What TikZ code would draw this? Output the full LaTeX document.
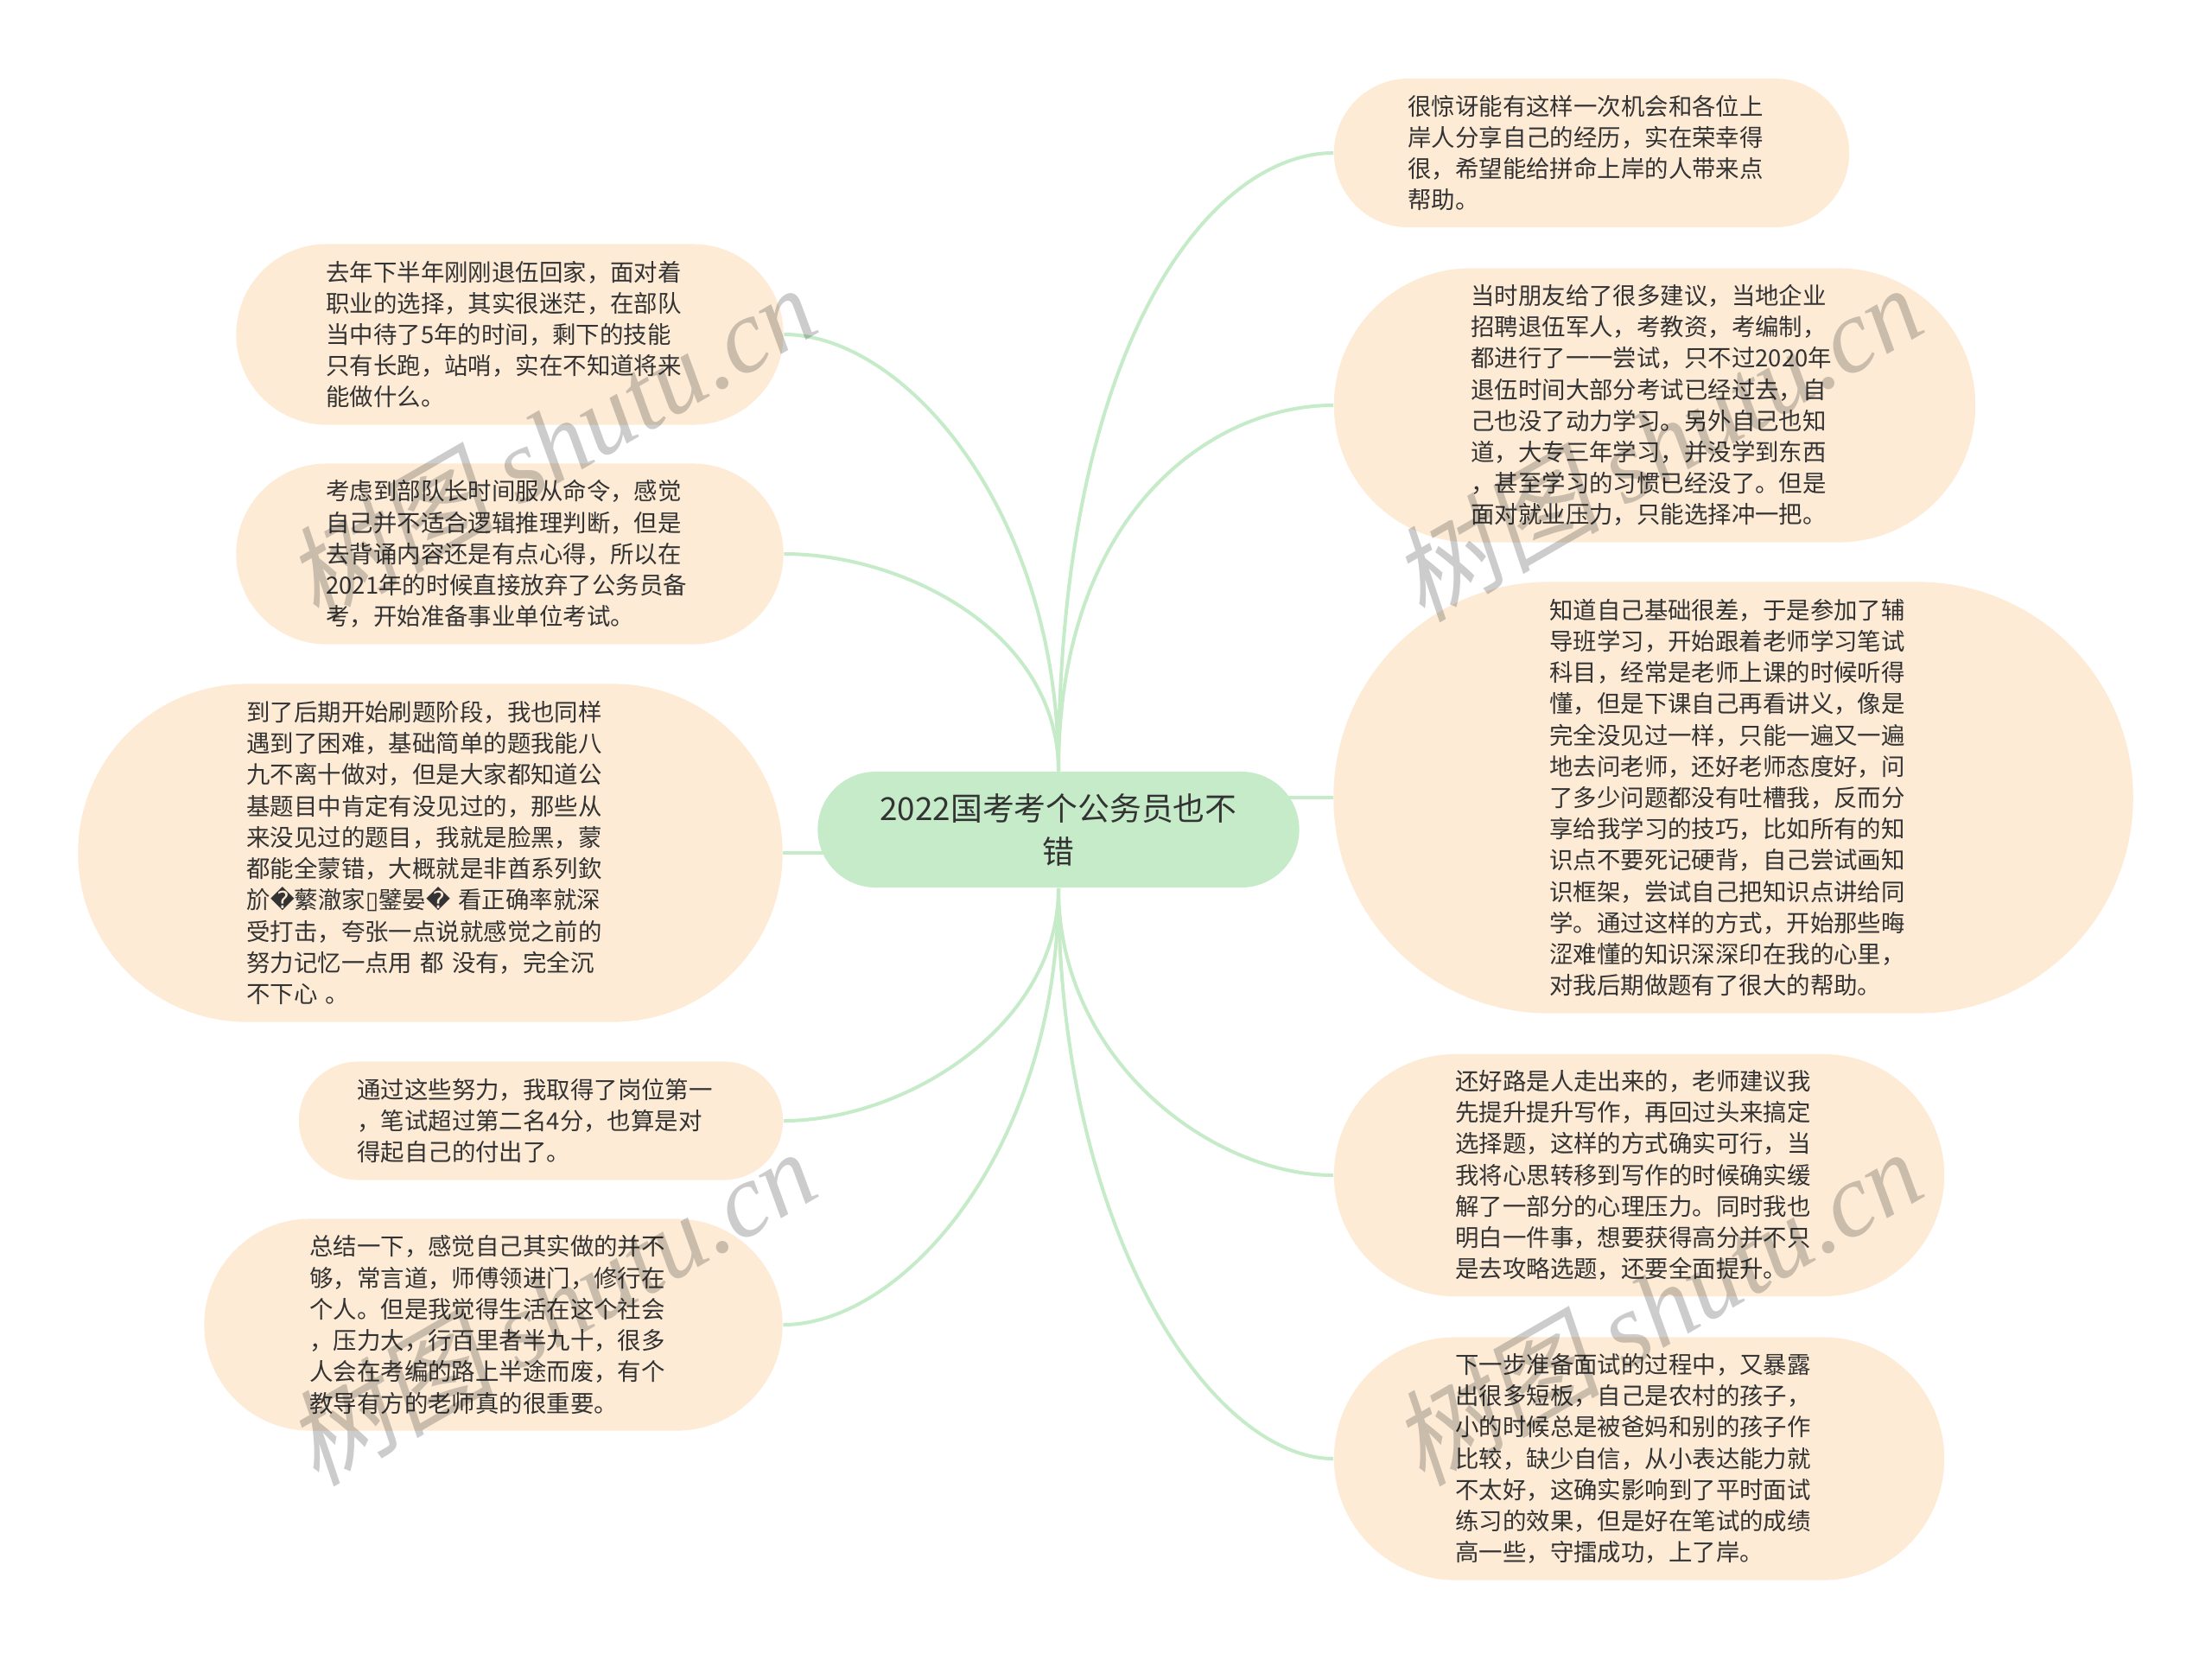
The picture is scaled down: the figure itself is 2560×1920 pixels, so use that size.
\documentclass[tikz,border=0pt]{standalone}
\usepackage{fontspec}
\setmainfont{Noto Sans CJK SC}
\newfontfamily\markfont[FakeSlant=0.2]{Noto Sans CJK SC}
\newfontfamily\latinmark{Liberation Serif}[ItalicFont=* Italic]
\newfontfamily\symfont{DejaVu Sans}
\usetikzlibrary{backgrounds}
\definecolor{leaffill}{HTML}{FDEBD6}
\definecolor{rootfill}{HTML}{C5EBC9}
\definecolor{linkcolor}{HTML}{C5EBC9}
\definecolor{inkcolor}{HTML}{333333}
\tikzset{
  leaf/.style n args={2}{rectangle,fill=leaffill,text=inkcolor,inner sep=0pt,
    minimum width=#1,minimum height=#2,rounded corners=#2/2,
    text width=4.25cm,align=left,font=\fontsize{7.8pt}{10.3pt}\selectfont},
  root/.style={rectangle,fill=rootfill,text=inkcolor,inner sep=0pt,
    minimum width=5.57cm,minimum height=1.34cm,rounded corners=0.67cm,
    text width=4.4cm,align=center,font=\fontsize{10.47pt}{14.2pt}\selectfont},
  watermark/.style={text=black,text opacity=0.2,inner sep=0pt,rotate=30,
    font=\fontsize{34.5pt}{35pt}\selectfont},
  link/.style={color=linkcolor,line width=0.04cm}
}
\begin{document}
\begin{tikzpicture}[x=0.01cm,y=-0.01cm]
  \useasboundingbox (0,0) rectangle (2560,1920);
  \draw
    (1225,960) node[root] (0){2022国考考个公务员也不\\错}
    (1842,177) node[leaf={5.96cm}{1.72cm}] (1){很惊讶能有这样一次机会和各位上\\岸人分享自己的经历，实在荣幸得\\很，希望能给拼命上岸的人带来点\\帮助。}
    (1915,469) node[leaf={7.42cm}{3.17cm}] (2){当时朋友给了很多建议，当地企业\\招聘退伍军人，考教资，考编制，\\都进行了一一尝试，只不过2020年\\退伍时间大部分考试已经过去，自\\己也没了动力学习。另外自己也知\\道，大专三年学习，并没学到东西\\，甚至学习的习惯已经没了。但是\\面对就业压力，只能选择冲一把。}
    (2006,923) node[leaf={9.25cm}{4.99cm}] (3){知道自己基础很差，于是参加了辅\\导班学习，开始跟着老师学习笔试\\科目，经常是老师上课的时候听得\\懂，但是下课自己再看讲义，像是\\完全没见过一样，只能一遍又一遍\\地去问老师，还好老师态度好，问\\了多少问题都没有吐槽我，反而分\\享给我学习的技巧，比如所有的知\\识点不要死记硬背，自己尝试画知\\识框架，尝试自己把知识点讲给同\\学。通过这样的方式，开始那些晦\\涩难懂的知识深深印在我的心里，\\对我后期做题有了很大的帮助。}
    (1897,1360) node[leaf={7.06cm}{2.80cm}] (4){还好路是人走出来的，老师建议我\\先提升提升写作，再回过头来搞定\\选择题，这样的方式确实可行，当\\我将心思转移到写作的时候确实缓\\解了一部分的心理压力。同时我也\\明白一件事，想要获得高分并不只\\是去攻略选题，还要全面提升。}
    (1897,1688) node[leaf={7.06cm}{2.81cm}] (5){下一步准备面试的过程中，又暴露\\出很多短板，自己是农村的孩子，\\小的时候总是被爸妈和别的孩子作\\比较，缺少自信，从小表达能力就\\不太好，这确实影响到了平时面试\\练习的效果，但是好在笔试的成绩\\高一些，守擂成功，上了岸。}
    (590,387) node[leaf={6.33cm}{2.09cm}] (6){去年下半年刚刚退伍回家，面对着\\职业的选择，其实很迷茫，在部队\\当中待了5年的时间，剩下的技能\\只有长跑，站哨，实在不知道将来\\能做什么。}
    (590,641) node[leaf={6.33cm}{2.09cm}] (7){考虑到部队长时间服从命令，感觉\\自己并不适合逻辑推理判断，但是\\去背诵内容还是有点心得，所以在\\2021年的时候直接放弃了公务员备\\考，开始准备事业单位考试。}
    (498,987) node[leaf={8.15cm}{3.91cm}] (8){到了后期开始刷题阶段，我也同样\\遇到了困难，基础简单的题我能八\\九不离十做对，但是大家都知道公\\基题目中肯定有没见过的，那些从\\来没见过的题目，我就是脸黑，蒙\\都能全蒙错，大概就是非酋系列欽\\斺{\symfont �}蘩澈家{\symfont ▯}鐾晏{\symfont �} 看正确率就深\\受打击，夸张一点说就感觉之前的\\努力记忆一点用 都 没有，完全沉\\不下心 。}
    (626,1297) node[leaf={5.60cm}{1.37cm}] (9){通过这些努力，我取得了岗位第一\\，笔试超过第二名4分，也算是对\\得起自己的付出了。}
    (571,1533) node[leaf={6.69cm}{2.45cm}] (10){总结一下，感觉自己其实做的并不\\够，常言道，师傅领进门，修行在\\个人。但是我觉得生活在这个社会\\，压力大，行百里者半九十，很多\\人会在考编的路上半途而废，有个\\教导有方的老师真的很重要。};
  \begin{scope}[on background layer={link}]
    \draw (0.north) .. controls +(0,-500) and +(-140,0) .. (1.west);
    \draw (0.north) .. controls +(0,-300) and +(-140,0) .. (2.west);
    \draw (3.west) to (3.west -| 0.center);
    \draw (0.south) .. controls +(0,200) and +(-140,0) .. (4.west);
    \draw (0.south) .. controls +(0,400) and +(-140,0) .. (5.west);
    \draw (0.north) .. controls +(0,-300) and +(140,0) .. (6.east);
    \draw (0.north) .. controls +(0,-160) and +(140,0) .. (7.east);
    \draw (8.east) to (8.east -| 0.center);
    \draw (0.south) .. controls +(0,160) and +(140,0) .. (9.east);
    \draw (0.south) .. controls +(0,300) and +(140,0) .. (10.east);
  \end{scope}
  \foreach \i/\x/\y in {1/637/512,2/1917/512,3/637/1512,4/1917/1512}
    \node[watermark] (m\i) at (\x,\y) {\markfont 树图 {\latinmark\itshape shutu.cn}};
\end{tikzpicture}
\end{document}
